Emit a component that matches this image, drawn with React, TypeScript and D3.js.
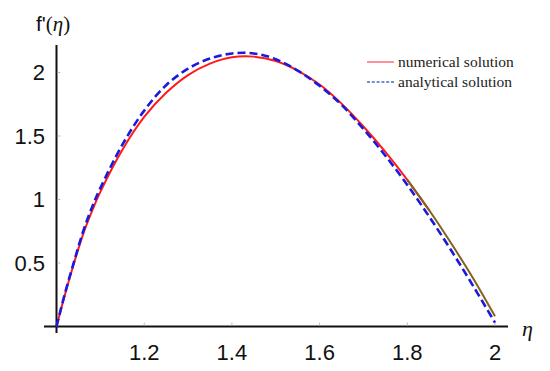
import React from "react";
import * as d3 from "d3";

const etaValues = [1.0, 1.02, 1.04, 1.06, 1.08, 1.1, 1.15, 1.2, 1.25, 1.3, 1.35, 1.4, 1.45, 1.5, 1.55, 1.6, 1.65, 1.7, 1.75, 1.8, 1.85, 1.9, 1.95, 2.0];
const numericalValues = [0, 0.26, 0.5, 0.72, 0.9, 1.06, 1.39, 1.65, 1.84, 1.98, 2.07, 2.12, 2.125, 2.09, 2.015, 1.905, 1.755, 1.575, 1.375, 1.155, 0.915, 0.655, 0.38, 0.08];
const analyticalValues = [0, 0.27, 0.51, 0.74, 0.93, 1.09, 1.43, 1.7, 1.9, 2.03, 2.11, 2.15, 2.15, 2.105, 2.015, 1.895, 1.745, 1.555, 1.345, 1.115, 0.865, 0.6, 0.32, 0.03];
const xTicks = [1.2, 1.4, 1.6, 1.8, 2];
const yTicks = [0.5, 1, 1.5, 2];
const xTickLabels = ["1.2", "1.4", "1.6", "1.8", "2"];
const yTickLabels = ["0.5", "1", "1.5", "2"];
const legendLabels = ["numerical solution", "analytical solution"];

const W = 550;
const H = 371;

export default function App() {
  const x = d3.scaleLinear().domain([1, 2]).range([56.5, 495]);
  const y = d3.scaleLinear().domain([0, 2]).range([326.5, 72.5]);

  const num = etaValues.map((e, i) => [e, numericalValues[i]] as [number, number]);
  const ana = etaValues.map((e, i) => [e, analyticalValues[i]] as [number, number]);
  const line = d3
    .line<[number, number]>()
    .x((d) => x(d[0]))
    .y((d) => y(d[1]))
    .curve(d3.curveCatmullRom.alpha(0.5));

  const splitIdx = etaValues.indexOf(1.8);
  const numRed = num.slice(0, splitIdx + 2);
  const numBrown = num.slice(splitIdx);

  const sans = "'Liberation Sans', Arial, sans-serif";
  const serif = "'Liberation Serif', 'Times New Roman', serif";

  return (
    <svg width={W} height={H} style={{ position: "absolute", left: 0, top: 0, background: "#fff" }}>
      {/* axes */}
      <line x1={44} x2={508} y1={y(0)} y2={y(0)} stroke="#111" strokeWidth={2} />
      <line x1={x(1)} x2={x(1)} y1={45} y2={333} stroke="#111" strokeWidth={2} />
      {xTicks.map((t, i) => (
        <g key={"xt" + i}>
          <line x1={x(t)} x2={x(t)} y1={y(0) - 1} y2={y(0) - 4} stroke="#bbb" strokeWidth={1} />
          <text x={x(t)} y={360} textAnchor="middle" fontFamily={sans} fontSize={22} fill="#111">
            {xTickLabels[i]}
          </text>
        </g>
      ))}
      {yTicks.map((t, i) => (
        <g key={"yt" + i}>
          <line x1={x(1) + 1} x2={x(1) + 4} y1={y(t)} y2={y(t)} stroke="#bbb" strokeWidth={1} />
          <text x={45} y={y(t) + 7.5} textAnchor="end" fontFamily={sans} fontSize={22} fill="#111">
            {yTickLabels[i]}
          </text>
        </g>
      ))}
      {/* axis labels */}
      <text x={36} y={31} fontSize={21} fill="#111">
        <tspan fontFamily={sans}>f'</tspan>
        <tspan fontFamily={serif}>(</tspan>
        <tspan fontFamily={serif} fontStyle="italic">η</tspan>
        <tspan fontFamily={serif}>)</tspan>
      </text>
      <text x={522} y={336} fontFamily={serif} fontStyle="italic" fontSize={22} fill="#111">
        η
      </text>

      {/* curves */}
      <path d={line(numRed) || ""} fill="none" stroke="#ff1a1a" strokeWidth={2} />
      <path d={line(numBrown) || ""} fill="none" stroke="#85601e" strokeWidth={2} />
      <path d={line(ana) || ""} fill="none" stroke="#1a1adf" strokeWidth={2.6} strokeDasharray="8 4" />

      {/* legend */}
      <line x1={367} x2={394} y1={62} y2={62} stroke="#ff6a7a" strokeWidth={1.5} />
      <text x={398} y={67} fontFamily={serif} fontSize={15.5} fill="#222">
        {legendLabels[0]}
      </text>
      <line x1={367} x2={394} y1={82} y2={82} stroke="#4a6ac8" strokeWidth={1.5} strokeDasharray="3 1.8" />
      <text x={398} y={87} fontFamily={serif} fontSize={15.5} fill="#222">
        {legendLabels[1]}
      </text>
    </svg>
  );
}
